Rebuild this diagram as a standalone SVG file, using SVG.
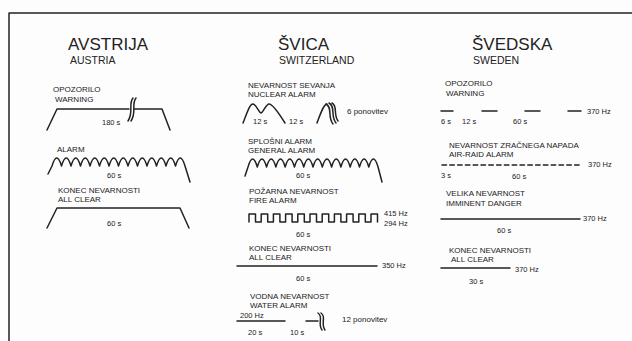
<svg xmlns="http://www.w3.org/2000/svg" width="632" height="341" viewBox="0 0 632 341">
<style>
text{font-family:"Liberation Sans",Arial,sans-serif;fill:#222}
.h{font-size:17px}
.s{font-size:10.5px}
.l{font-size:8px}
.n{font-size:7.5px}
.w{fill:none;stroke:#222;stroke-width:1.5;stroke-linejoin:round;stroke-linecap:round}
</style>
<rect width="632" height="341" fill="#fdfdfd"/>
<g id="frame"><path class="w" d="M9,341 V13 H632" stroke-width="2"/></g>

<g id="austria">
<text class="h" x="68" y="50">AVSTRIJA</text>
<text class="s" x="70" y="64">AUSTRIA</text>
<g id="at-warning">
<text class="l" x="53" y="92">OPOZORILO</text>
<text class="l" x="55" y="102">WARNING</text>
<path class="w" d="M47,130 L57,109 H129 M134,109 H162 L170,130"/>
<path class="w" d="M133,98 C128,104 134,112 128,121 M136,98 C131,104 137,112 131,121" stroke-width="1.2"/>
<text class="n" x="102" y="125">180 s</text>
</g>
<g id="at-alarm">
<text class="l" x="57" y="152">ALARM</text>
<path class="w" d="M48,174 L52,166 q4.75,-16 9.5,0 q4.75,-16 9.5,0 q4.75,-16 9.5,0 q4.75,-16 9.5,0 q4.75,-16 9.5,0 q4.75,-16 9.5,0 q4.75,-16 9.5,0 q4.75,-16 9.5,0 q4.75,-16 9.5,0 q4.75,-16 9.5,0 q4.75,-16 9.5,0 q4.75,-16 9.5,0 q4.75,-16 9.5,0 q4.75,-16 9.5,0 L190,182"/>
<text class="n" x="107" y="178">60 s</text>
</g>
<g id="at-clear">
<text class="l" x="58" y="193">KONEC NEVARNOSTI</text>
<text class="l" x="58" y="202">ALL CLEAR</text>
<path class="w" d="M47,228 L57,208 H180 L189,228"/>
<text class="n" x="107" y="226">60 s</text>
</g>
</g>

<g id="switzerland">
<text class="h" x="278" y="50">ŠVICA</text>
<text class="s" x="279" y="64">SWITZERLAND</text>
<g id="ch-nuclear">
<text class="l" x="248" y="88">NEVARNOST SEVANJA</text>
<text class="l" x="248" y="97">NUCLEAR ALARM</text>
<path class="w" d="M243,123 C248,110 250,104 253,104 C256,104 259,113 261,113 C263,113 266,104 269,104 C273,104 280,115 285,123"/>
<text class="n" x="253" y="124">12 s</text>
<text class="n" x="289" y="124">12 s</text>
<path class="w" d="M317,123 C321,112 324,104 327,104"/>
<path class="w" d="M326,104 C333,108 327,116 333,124 M329,103 C336,107 330,115 336,123 M332,103 C338,106 333,114 338,121" stroke-width="1.1"/>
<text class="l" x="347" y="114">6 ponovitev</text>
</g>
<g id="ch-general">
<text class="l" x="248" y="144">SPLOŠNI ALARM</text>
<text class="l" x="248" y="153">GENERAL ALARM</text>
<path class="w" d="M245,176 L248,167 q4.64,-16 9.29,0 q4.64,-16 9.29,0 q4.64,-16 9.29,0 q4.64,-16 9.29,0 q4.64,-16 9.29,0 q4.64,-16 9.29,0 q4.64,-16 9.29,0 q4.64,-16 9.29,0 q4.64,-16 9.29,0 q4.64,-16 9.29,0 q4.64,-16 9.29,0 q4.64,-16 9.29,0 q4.64,-16 9.29,0 q4.64,-16 9.29,0 L382,182"/>
<text class="n" x="296" y="178">60 s</text>
</g>
<g id="ch-fire">
<text class="l" x="249" y="194">POŽARNA NEVARNOST</text>
<text class="l" x="249" y="203">FIRE ALARM</text>
<path class="w" stroke-linejoin="miter" stroke-linecap="butt" d="M249,222 v-8 h6.5 v8 h5.7 v-8 h6.5 v8 h5.7 v-8 h6.5 v8 h5.7 v-8 h6.5 v8 h5.7 v-8 h6.5 v8 h5.7 v-8 h6.5 v8 h5.7 v-8 h6.5 v8 h5.7 v-8 h6.5 v8 h5.7 v-8 h6.5 v8 h5.7 v-8 h6.5 v8 h5.7 v-8 h6.5 v8"/>
<text class="n" x="384" y="216">415 Hz</text>
<text class="n" x="384" y="226">294 Hz</text>
<text class="n" x="296" y="237">60 s</text>
</g>
<g id="ch-clear">
<text class="l" x="249" y="251">KONEC NEVARNOSTI</text>
<text class="l" x="249" y="260">ALL CLEAR</text>
<path class="w" d="M237,266 H377"/>
<text class="n" x="382" y="268">350 Hz</text>
<text class="n" x="296" y="281">60 s</text>
</g>
<g id="ch-water">
<text class="l" x="250" y="299">VODNA NEVARNOST</text>
<text class="l" x="250" y="308">WATER ALARM</text>
<text class="n" x="240" y="318">200 Hz</text>
<path class="w" d="M237,321 H285 M306,321 H318"/>
<path class="w" d="M318,313 C324,317 317,323 322,330 M321,313 C327,317 320,323 325,330" stroke-width="1.1"/>
<text class="n" x="248" y="335">20 s</text>
<text class="n" x="290" y="335">10 s</text>
<text class="l" x="342" y="322">12 ponovitev</text>
</g>
</g>

<g id="sweden">
<text class="h" x="472" y="50">ŠVEDSKA</text>
<text class="s" x="473" y="64">SWEDEN</text>
<g id="se-warning">
<text class="l" x="445" y="86">OPOZORILO</text>
<text class="l" x="446" y="96">WARNING</text>
<path class="w" stroke-linecap="butt" d="M441,111 H453 M482,111 H497 M525,111 H540 M568,111 H581"/>
<text class="n" x="587" y="114">370 Hz</text>
<text class="n" x="441" y="124">6 s</text>
<text class="n" x="462" y="124">12 s</text>
<text class="n" x="513" y="124">60 s</text>
</g>
<g id="se-airraid">
<text class="l" x="449" y="148">NEVARNOST ZRAČNEGA NAPADA</text>
<text class="l" x="449" y="157">AIR-RAID ALARM</text>
<path class="w" stroke-linecap="butt" stroke-dasharray="4.5 3.3" d="M442,165 H582"/>
<text class="n" x="588" y="167">370 Hz</text>
<text class="n" x="441" y="178">3 s</text>
<text class="n" x="512" y="179">60 s</text>
</g>
<g id="se-danger">
<text class="l" x="446" y="196">VELIKA NEVARNOST</text>
<text class="l" x="446" y="206">IMMINENT DANGER</text>
<path class="w" d="M441,219 H580"/>
<text class="n" x="583" y="221">370 Hz</text>
<text class="n" x="497" y="233">60 s</text>
</g>
<g id="se-clear">
<text class="l" x="449" y="253">KONEC NEVARNOSTI</text>
<text class="l" x="451" y="262">ALL CLEAR</text>
<path class="w" d="M441,268 H510"/>
<text class="n" x="515" y="272">370 Hz</text>
<text class="n" x="469" y="284">30 s</text>
</g>
</g>
</svg>
